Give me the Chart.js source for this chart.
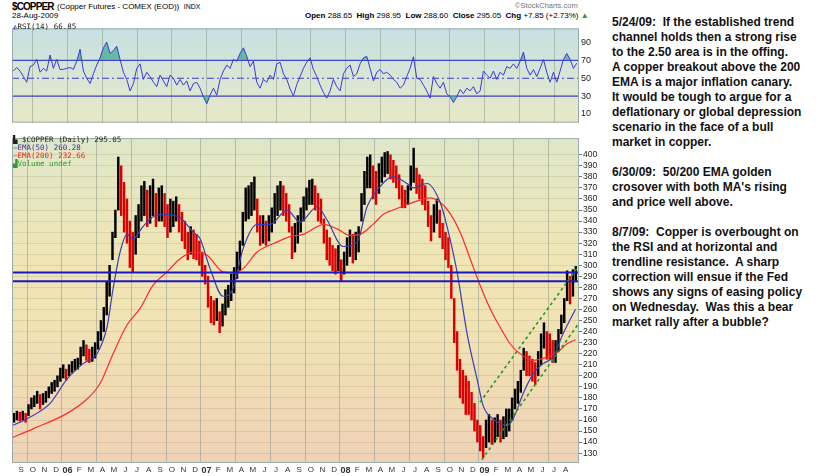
<!DOCTYPE html>
<html>
<head>
<meta charset="utf-8">
<script src="https://cdn.jsdelivr.net/npm/chart.js@4.4.0/dist/chart.umd.min.js"></script>
<style>
  body { margin: 0; width: 820px; height: 476px; background: #fff; position: relative; overflow: hidden;
         font-family: "Liberation Sans", Arial, sans-serif; }
  canvas { position: absolute; left: 0; }
  #rsiChart { top: 21px; }
  #priceChart { top: 132px; }
  .t { position: absolute; white-space: pre; color: #000; }
  .mono { font-family: "DejaVu Sans Mono", monospace; font-size: 7.5px; line-height: 8px; }
  #notes { left: 612px; top: 15px; font-size: 12px; font-weight: bold; line-height: 15px; color: #111; }
</style>
</head>
<body>
<div class="t" style="left:12px;top:0px;font-size:10px;font-weight:bold;line-height:14px;letter-spacing:-0.9px">$COPPER</div>
<div class="t" style="left:57px;top:1px;font-size:8px;line-height:12px">(Copper Futures - COMEX (EOD))&nbsp; <span style="font-size:7px">INDX</span></div>
<div class="t" style="left:12px;top:10px;font-size:8px;line-height:12px">28-Aug-2009</div>
<div class="t" style="left:515px;top:1px;font-size:7.5px;line-height:10px;color:#777">©StockCharts.com</div>
<div class="t" style="left:305px;top:10px;font-size:8px;line-height:12px"><b>Open</b> 288.65 &nbsp;<b>High</b> 298.95 &nbsp;<b>Low</b> 288.60 &nbsp;<b>Close</b> 295.05 &nbsp;<b>Chg</b> +7.85 (+2.73%) <span style="color:#393">▲</span></div>

<canvas id="rsiChart" width="610" height="109"></canvas>
<canvas id="priceChart" width="610" height="344"></canvas>

<div class="t mono" style="left:13px;top:23px;color:#222"><span style="color:#44a">◭</span>RSI(14) 66.85</div>
<div class="t mono" style="left:13px;top:136px;color:#222">▙ $COPPER (Daily) 295.05</div>
<div class="t mono" style="left:13px;top:144px;color:#33339a">—EMA(50) 260.28</div>
<div class="t mono" style="left:13px;top:152px;color:#e22">—EMA(200) 232.66</div>
<div class="t mono" style="left:13px;top:160px;color:#393">▟Volume undef</div>

<div class="t" id="notes">5/24/09:  If the established trend
channel holds then a strong rise
to the 2.50 area is in the offing.
A copper breakout above the 200
EMA is a major inflation canary.
It would be tough to argue for a
deflationary or global depression
scenario in the face of a bull
market in copper.

6/30/09:  50/200 EMA golden
crosover with both MA's rising
and price well above.

8/7/09:  Copper is overbought on
the RSI and at horizontal and
trendline resistance.  A sharp
correction will ensue if the Fed
shows any signs of easing policy
on Wednesday.  Was this a bear
market rally after a bubble?</div>

<script>
// months counted from Sep 2005 (0) to Aug 2009 (47)
const monthLabels = [
  'S','O','N','D','06','F','M','A','M','J','J','A',
  'S','O','N','D','07','F','M','A','M','J','J','A',
  'S','O','N','D','08','F','M','A','M','J','J','A',
  'S','O','N','D','09','F','M','A','M','J','J','A'
];
const xMin = -0.8, xMax = 48.15;

// weekly price ranges (cents), first week mid Aug 2005
const weekFirst = -0.625, weekStep = 0.25;
const weekLow = [
  158,160,159,
  160,158,164,170, 172,175,170,174, 176,180,184,186, 190,195,198,196,
  200,203,205,206, 210,218,214,212, 213,216,224,232, 240,255,272,305,
  325,350,345,330, 320,298,294,310, 325,340,345,335, 338,345,335,340,
  340,335,325,330, 335,340,330,322, 315,305,310,306, 305,300,290,283,
  262,248,246,250, 239,245,255,262, 268,275,288,295, 318,340,342,345,
  350,330,318,320, 318,322,330,338, 345,350,345,340, 330,306,312,320,
  330,340,350,355, 355,350,340,338, 320,305,300,295, 292,295,286,292,
  300,308,302,305, 312,340,355,370, 370,360,355,365, 375,380,383,378,
  375,370,360,352, 352,355,368,375, 365,360,355,350, 335,322,330,338,
  325,315,305,298, 270,230,205,180, 175,165,165,160, 150,140,132,126,
  135,140,138,140, 145,140,143,145, 150,160,170,175, 185,205,200,200,
  195,192,200,210, 225,215,215,212, 212,222,238,248, 268,265,272,285
];
const weekHigh = [
  166,168,167,
  168,166,174,180, 182,186,183,184, 186,190,194,196, 200,207,210,206,
  210,213,215,216, 226,232,228,224, 226,230,240,250, 262,285,300,330,
  350,398,390,375, 360,340,330,345, 355,372,376,368, 372,378,365,370,
  372,365,355,360, 358,362,355,348, 340,330,335,332, 328,322,312,300,
  290,272,268,270, 258,265,278,282, 292,298,312,322, 348,370,372,375,
  380,360,345,345, 340,345,352,365, 372,376,372,365, 355,335,338,345,
  352,362,370,377, 378,372,365,360, 342,332,325,318, 315,318,305,312,
  325,332,328,330, 335,365,385,398, 400,390,385,392, 398,402,403,400,
  395,390,382,372, 368,372,390,406, 388,382,378,372, 358,345,355,360,
  350,338,330,325, 300,270,240,215, 205,200,195,185, 175,160,155,145,
  160,165,160,162, 165,160,163,170, 170,180,188,195, 205,225,222,218,
  215,212,222,238, 248,240,238,232, 232,242,255,270, 295,290,296,299
];

// moving averages: [month, value]
const ema50 = [
  [-0.79,155],[0.47,161],[2.49,175],[3.95,197],[5.34,211],[6.54,220],[7.4,244],[7.93,279],
  [8.53,312],[9.13,328],[9.65,324],[10.5,335],[11.38,344],[12.24,346],[13.71,343],[14.83,330],
  [15.44,324],[16.3,297],[17.42,272],[18.29,279],[19.15,315],[20.36,337],[21.48,337],[22.95,350],
  [24.07,339],[25.54,353],[26.4,341],[27.78,317],[28.99,321],[29.85,353],[30.72,368],[32.1,380],
  [33.3,374],[33.83,370],[35.03,374],[36.16,357],[36.76,335],[37.62,294],[38.49,238],[39.35,197],
  [39.87,173],[40.73,161],[41.94,155],[42.46,161],[43.33,184],[44.19,202],[45.05,211],[45.91,217],
  [46.77,238],[47.85,260.28]
];
const ema200 = [
  [-0.79,144],[1.02,152],[3.95,166],[5.68,179],[6.8,193],[7.93,220],[9.13,246],[10.26,261],
  [11.38,282],[12.59,294],[13.71,306],[14.83,312],[16.04,309],[17.42,294],[18.29,293],[19.15,297],
  [20.36,312],[22.08,321],[23.2,326],[24.33,328],[25.54,335],[26.06,337],[27.26,333],[28.38,327],
  [29.25,328],[30.37,337],[31.24,346],[32.1,350],[33.3,355],[34.43,359],[35.29,361],[36.16,357],
  [37.02,347],[37.89,330],[38.75,306],[39.61,282],[40.47,261],[41.34,244],[42.2,229],[43.06,220],
  [44.19,214],[45.4,217],[46.26,221],[47.12,229],[47.85,232.66]
];

const resistance = [293.5, 285.5];
const channelTop = [[39.6,176],[48.1,299]];
const channelBottom = [[39.76,124],[48.1,247]];
const priceTicks = [130,140,150,160,170,180,190,200,210,220,230,240,250,260,270,280,290,300,310,320,330,340,350,360,370,380,390,400];

// RSI(14), sampled every ~0.29 month
const rsiFirst = -0.68, rsiStep = 0.2878;
const rsi = [
  58,62,58,52,45.5,63,64.8,71,56.7,61,58,76,61,71,59.7,60,61,62,60,69,82.5,58,50,44,55,64.8,72.8,84,90.5,77.7,
  80.9,85.8,71,56.7,48.7,35.8,44,61,66,48.7,56.7,51.9,45.5,40.6,53.5,47,40.6,53.5,50,42.3,48.7,42.3,47,35.8,44,45.5,38.9,29.3,21.3,31,
  38.9,31,48.7,58,64.8,61,71,69,77.7,84,74.5,63,69,45.5,38.9,48.7,45.5,53.5,48.7,66,67.7,55,48.7,38,30,43,51.9,
  61,68,72.8,59.7,51.9,42.3,34.2,27.7,35.8,48.7,40.6,35.8,55,61,64.8,51.9,55,66,72.8,74.4,61,47,56.7,59.7,55,56.7,53.5,48.7,45.5,38.9,
  42.3,51.9,61,74,50,48.7,42.3,35.8,27.7,51.9,44,38.9,45.5,32.6,29.3,22.9,29.3,37.4,32.6,38.9,35.8,40.6,32.6,35.8,58,53.5,50,58,48.7,56.7,
  53.5,63,61,66,61,69,79.3,61,53.5,59.7,51.9,61,71,56.7,45.5,56.7,45.5,58,71,77.7,71,61,66.85
];
const rsiLevels = [70, 50, 30];
const rsiTicks = [10, 30, 50, 70, 90];

// panel background + frame
const panelBg = {
  id: 'panelBg',
  beforeDraw(chart, args, opts) {
    const { ctx, chartArea: a } = chart;
    const g = ctx.createLinearGradient(0, a.top, 0, a.bottom);
    opts.stops.forEach(s => g.addColorStop(s[0], s[1]));
    ctx.save();
    ctx.fillStyle = g;
    ctx.fillRect(a.left, a.top, a.right - a.left, a.bottom - a.top);
    ctx.restore();
  },
  afterDraw(chart) {
    const { ctx, chartArea: a } = chart;
    ctx.save();
    ctx.strokeStyle = '#9aabab';
    ctx.lineWidth = 1;
    ctx.strokeRect(a.left + 0.5, a.top + 0.5, a.right - a.left - 1, a.bottom - a.top - 1);
    ctx.restore();
  }
};

const quarterGrid = ctx => (ctx.tick && ctx.tick.value % 3 === 1) ? 'rgba(140,155,140,0.55)' : 'rgba(0,0,0,0)';

function xScale(showLabels) {
  return {
    type: 'linear', min: xMin, max: xMax, offset: false,
    afterBuildTicks: s => { s.ticks = monthLabels.map((l, i) => ({ value: i })); },
    afterFit: s => { s.height = showLabels ? 13 : 0; },
    grid: { color: quarterGrid, drawTicks: false },
    border: { display: false },
    ticks: {
      display: showLabels, autoSkip: false, maxRotation: 0, padding: 2, color: '#333',
      callback: v => monthLabels[v],
      font: c => (c.tick && c.tick.value % 12 === 4)
        ? { size: 9, weight: 'bold', family: 'Liberation Sans' }
        : { size: 8, family: 'Liberation Sans' }
    }
  };
}

Chart.defaults.font.family = 'Liberation Sans';

// RSI panel
const lineAcross = (v, color, dash) => ({
  type: 'line', data: [{ x: xMin, y: v }, { x: xMax, y: v }],
  borderColor: color, borderWidth: 1.2, borderDash: dash, pointRadius: 0, order: 2
});
const rsiPts = rsi.map((v, i) => ({ x: rsiFirst + i * rsiStep, y: v }));

new Chart(document.getElementById('rsiChart'), {
  type: 'line',
  data: {
    datasets: [
      { data: rsiPts, borderColor: '#3a3ad8', borderWidth: 1, pointRadius: 0, order: 0,
        fill: { target: { value: 70 }, above: 'rgba(70,170,150,0.75)', below: 'rgba(0,0,0,0)' } },
      { data: rsiPts, borderWidth: 0, pointRadius: 0, order: 1,
        fill: { target: { value: 30 }, above: 'rgba(0,0,0,0)', below: 'rgba(70,170,150,0.75)' } },
      lineAcross(rsiLevels[0], '#3c3cc8', []),
      lineAcross(rsiLevels[1], '#3c3cc8', [7, 3, 2, 3]),
      lineAcross(rsiLevels[2], '#3c3cc8', [])
    ]
  },
  options: {
    responsive: false, animation: false,
    layout: { padding: { left: 12, right: 0, top: 0, bottom: 0 } },
    plugins: { legend: { display: false }, tooltip: { enabled: false },
      panelBg: { stops: [[0, '#c6e0e2'], [0.55, '#d9e6d4'], [1, '#e8e8c6']] } },
    scales: {
      x: xScale(false),
      y: {
        position: 'right', min: 0.4, max: 105.7,
        afterBuildTicks: s => { s.ticks = rsiTicks.map(v => ({ value: v })); },
        afterFit: s => { s.width = 31; },
        grid: { drawOnChartArea: false, drawTicks: false },
        border: { display: false },
        ticks: { padding: 2, color: '#222', font: { size: 9 }, autoSkip: false }
      }
    }
  },
  plugins: [panelBg]
});

// price panel
const bars = weekLow.map((lo, i) => ({ x: weekFirst + i * weekStep, y: [lo, weekHigh[i]] }));
const barColors = weekLow.map((lo, i) => {
  if (i === 0) return '#000';
  const mid = (lo + weekHigh[i]) / 2, prev = (weekLow[i - 1] + weekHigh[i - 1]) / 2;
  return mid < prev ? '#dd0000' : '#000';
});
const hLine = v => ({
  type: 'line', data: [{ x: xMin, y: v }, { x: xMax, y: v }],
  borderColor: '#1818c8', borderWidth: 2, pointRadius: 0, order: 1
});
const trend = pts => ({
  type: 'line', data: pts.map(p => ({ x: p[0], y: p[1] })),
  borderColor: '#1f9a1f', borderWidth: 1.6, borderDash: [3, 3], pointRadius: 0, order: 0
});

new Chart(document.getElementById('priceChart'), {
  type: 'bar',
  data: {
    datasets: [
      { type: 'bar', data: bars, backgroundColor: barColors, barThickness: 1.8, grouped: false, order: 5 },
      { type: 'line', data: ema200.map(p => ({ x: p[0], y: p[1] })), borderColor: '#ff2a2a', borderWidth: 1.2,
        pointRadius: 0, cubicInterpolationMode: 'monotone', order: 3 },
      { type: 'line', data: ema50.map(p => ({ x: p[0], y: p[1] })), borderColor: '#3c3cb4', borderWidth: 1.2,
        pointRadius: 0, cubicInterpolationMode: 'monotone', order: 2 },
      hLine(resistance[0]),
      hLine(resistance[1]),
      trend(channelTop),
      trend(channelBottom)
    ]
  },
  options: {
    responsive: false, animation: false,
    layout: { padding: { left: 12, right: 0, top: 0, bottom: 0 } },
    plugins: { legend: { display: false }, tooltip: { enabled: false },
      panelBg: { stops: [[0, '#dfe7c9'], [0.35, '#efe6b6'], [0.6, '#f1e2b4'], [1, '#efd2b6']] } },
    scales: {
      x: xScale(true),
      y: {
        position: 'right', min: 121.1, max: 415.1,
        afterBuildTicks: s => { s.ticks = priceTicks.map(v => ({ value: v })); },
        afterFit: s => { s.width = 31; },
        grid: { color: 'rgba(150,140,100,0.22)', tickLength: 3, tickColor: '#777' },
        border: { display: false },
        ticks: { padding: 1, color: '#222', font: { size: 8.5 }, autoSkip: false }
      }
    }
  },
  plugins: [panelBg]
});
</script>
</body>
</html>
